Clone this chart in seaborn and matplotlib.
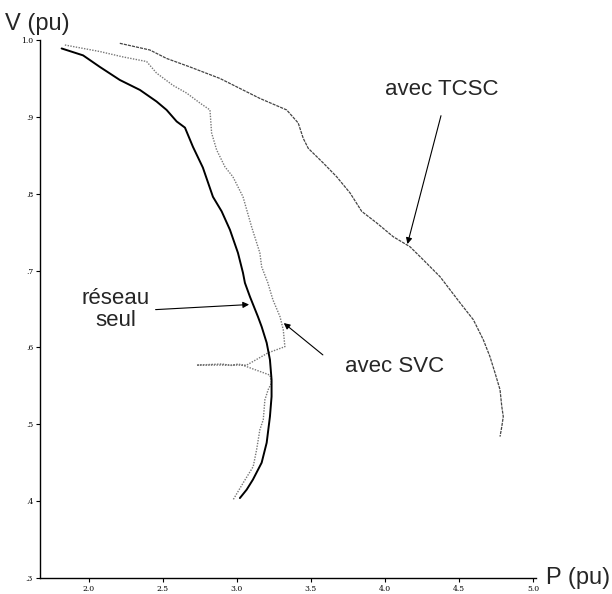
import matplotlib
matplotlib.use("Agg")
import matplotlib.pyplot as plt
import seaborn as sns
import pandas as pd

# réseau seul (solid)
p_seul = [1.816, 1.961, 2.074, 2.209, 2.345, 2.457, 2.525, 2.593, 2.649, 2.703, 2.770, 2.838,
          2.897, 2.953, 3.007, 3.041, 3.054, 3.088, 3.142, 3.167, 3.201, 3.223, 3.234, 3.234,
          3.223, 3.201, 3.167, 3.108, 3.066, 3.020]
v_seul = [0.989, 0.980, 0.965, 0.948, 0.935, 0.920, 0.909, 0.894, 0.886, 0.861, 0.834, 0.796,
          0.777, 0.753, 0.723, 0.697, 0.684, 0.666, 0.640, 0.627, 0.606, 0.584, 0.558, 0.536,
          0.510, 0.476, 0.450, 0.428, 0.415, 0.404]

# avec SVC (dotted)
p_svc = [1.838, 2.074, 2.230, 2.390, 2.457, 2.568, 2.660, 2.750, 2.818, 2.829, 2.863, 2.919,
         2.973, 3.041, 3.099, 3.155, 3.167, 3.209, 3.243, 3.291, 3.313, 3.324, 3.211, 3.066,
         2.728, 2.900, 2.960, 3.010, 3.066, 3.223, 3.234, 3.211, 3.189, 3.178, 3.155, 3.133,
         3.110, 3.043, 2.975]
v_svc = [0.9935, 0.985, 0.978, 0.972, 0.957, 0.941, 0.931, 0.918, 0.909, 0.879, 0.857, 0.835,
         0.822, 0.796, 0.757, 0.723, 0.705, 0.684, 0.662, 0.640, 0.623, 0.601, 0.593, 0.577,
         0.577, 0.5785, 0.5765, 0.5785, 0.575, 0.564, 0.554, 0.545, 0.532, 0.506, 0.493, 0.467,
         0.445, 0.424, 0.402]

# avec TCSC (fine dashed)
p_tcsc = [2.209, 2.412, 2.525, 2.682, 2.885, 3.020, 3.155, 3.336, 3.414, 3.448, 3.482, 3.583,
          3.674, 3.764, 3.843, 3.944, 4.056, 4.169, 4.248, 4.372, 4.507, 4.597, 4.664, 4.709,
          4.743, 4.777, 4.789, 4.799, 4.789, 4.777]
v_tcsc = [0.9957, 0.987, 0.976, 0.965, 0.950, 0.937, 0.924, 0.909, 0.892, 0.872, 0.859, 0.840,
          0.822, 0.801, 0.777, 0.762, 0.744, 0.731, 0.716, 0.692, 0.658, 0.636, 0.610, 0.588,
          0.567, 0.545, 0.523, 0.510, 0.497, 0.484]

x_ticks = [2.0, 2.5, 3.0, 3.5, 4.0, 4.5, 5.0]
x_ticklabels = ["2.0", "2.5", "3.0", "3.5", "4.0", "4.5", "5.0"]
y_ticks = [0.3, 0.4, 0.5, 0.6, 0.7, 0.8, 0.9, 1.0]
y_ticklabels = [".3", ".4", ".5", ".6", ".7", ".8", ".9", "1.0"]

sns.set_style("white")
plt.rcParams["font.family"] = ["Liberation Sans", "DejaVu Sans"]

fig = plt.figure(figsize=(6.12, 5.94), dpi=100)
ax = fig.add_axes([40 / 612, 1 - 578 / 594, (536 - 40) / 612, (578 - 40) / 594])

def frame(p, v, name):
    return pd.DataFrame({"P": p, "V": v, "curve": name, "order": range(len(p))})

df_seul = frame(p_seul, v_seul, "réseau seul")
df_svc = frame(p_svc, v_svc, "avec SVC")
df_tcsc = frame(p_tcsc, v_tcsc, "avec TCSC")

sns.lineplot(data=df_svc, x="P", y="V", sort=False, estimator=None, ax=ax,
             color="#777777", lw=1.0, linestyle=(0, (1, 1)))
sns.lineplot(data=df_tcsc, x="P", y="V", sort=False, estimator=None, ax=ax,
             color="#444444", lw=0.9, linestyle=(0, (2.5, 0.8)))
sns.lineplot(data=df_seul, x="P", y="V", sort=False, estimator=None, ax=ax,
             color="black", lw=1.4)

ax.set_xlim(1.67, 5.02)
ax.set_ylim(0.3, 1.0)
ax.set_xticks(x_ticks)
ax.set_xticklabels(x_ticklabels)
ax.set_yticks(y_ticks)
ax.set_yticklabels(y_ticklabels)
for lab in ax.get_xticklabels() + ax.get_yticklabels():
    lab.set_fontfamily("DejaVu Serif")
    lab.set_fontsize(5.5)
ax.tick_params(axis="both", direction="out", length=3, width=0.8, pad=2, colors="black",
               left=True, bottom=True)
ax.set_xlabel("")
ax.set_ylabel("")
sns.despine(ax=ax)
for s in ("left", "bottom"):
    ax.spines[s].set_color("black")
    ax.spines[s].set_linewidth(1.0)

arrow = dict(arrowstyle="-|>", color="black", lw=0.8, mutation_scale=9)
ax.annotate("", xy=(3.101, 0.656), xytext=(2.432, 0.649), arrowprops=arrow)
ax.annotate("", xy=(3.302, 0.634), xytext=(3.595, 0.588), arrowprops=arrow)
ax.annotate("", xy=(4.147, 0.731), xytext=(4.383, 0.905), arrowprops=arrow)

ax.text(2.182, 0.649, "réseau\nseul", ha="center", va="center", fontsize=16,
        multialignment="center", linespacing=1.05)
ax.text(3.73, 0.575, "avec SVC", ha="left", va="center", fontsize=16)
ax.text(4.0, 0.935, "avec TCSC", ha="left", va="center", fontsize=16)

fig.text(5 / 612, 1 - 24 / 594, "V (pu)", ha="left", va="center", fontsize=17)
fig.text(546 / 612, 1 - 578 / 594, "P (pu)", ha="left", va="center", fontsize=17)

fig.savefig("out.png", dpi=100)
